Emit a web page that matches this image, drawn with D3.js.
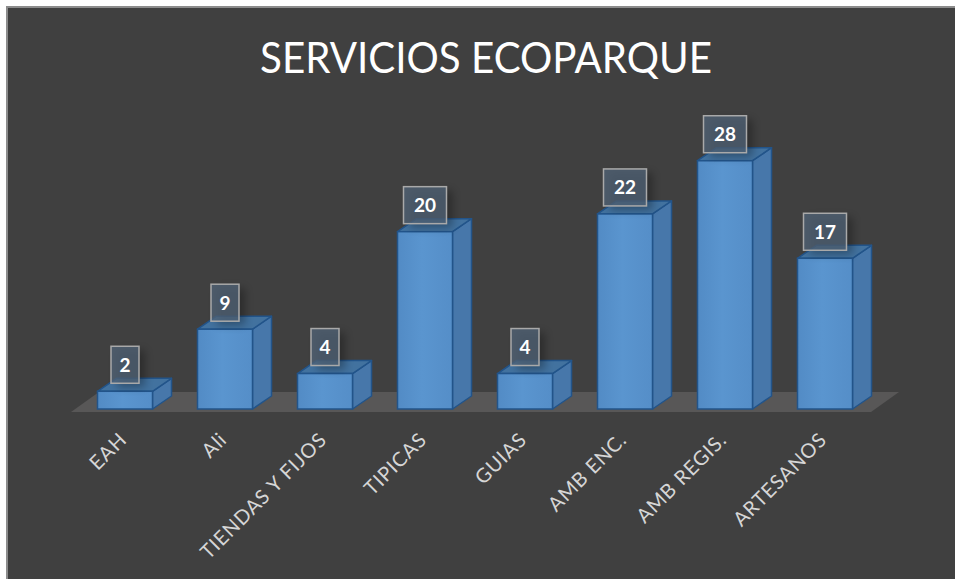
<!DOCTYPE html>
<html>
<head>
<meta charset="utf-8">
<script src="https://cdn.jsdelivr.net/npm/d3@7"></script>
<style>
  html, body { margin: 0; padding: 0; background: #ffffff; }
  svg { display: block; }
</style>
</head>
<body>
<svg id="chart" width="955" height="579"></svg>
<script>
// Services counted at the eco-park
const categories = ["EAH", "Ali", "TIENDAS Y FIJOS", "TIPICAS", "GUIAS", "AMB ENC.", "AMB REGIS.", "ARTESANOS"];
const values = [2, 9, 4, 20, 4, 22, 28, 17];
const title = "SERVICIOS ECOPARQUE";

const svg = d3.select("#chart");

// panel background with its border
svg.append("rect")
  .attr("x", 7).attr("y", 7)
  .attr("width", 960).attr("height", 590)
  .attr("fill", "#404040")
  .attr("stroke", "#8c8c8c")
  .attr("stroke-width", 2);

const defs = svg.append("defs");
const frontGrad = defs.append("linearGradient").attr("id", "front")
  .attr("x1", "0").attr("x2", "1").attr("y1", "0").attr("y2", "0");
frontGrad.append("stop").attr("offset", "0").attr("stop-color", "#528bc5");
frontGrad.append("stop").attr("offset", "0.45").attr("stop-color", "#5a95cf");
frontGrad.append("stop").attr("offset", "1").attr("stop-color", "#558ec8");

const shadow = defs.append("filter").attr("id", "soft")
  .attr("x", "-50%").attr("y", "-50%").attr("width", "200%").attr("height", "200%");
shadow.append("feGaussianBlur").attr("stdDeviation", 4);

// scales
const x = d3.scaleBand()
  .domain(categories)
  .range([75, 875])
  .paddingInner(0.45)
  .paddingOuter(0.225);

const y = d3.scaleLinear()
  .domain([0, 30])
  .range([409, 143]);

// oblique depth offsets
const bdx = 19, bdy = -13;     // bar depth
const fdx = 28, fdy = -20;     // floor depth
const base = y(0);

// floor
const fx0 = x.range()[0] - 4, fx1 = x.range()[1] - 4, fy = base + 3;
svg.append("path")
  .attr("d", `M${fx0},${fy} L${fx1},${fy} L${fx1 + fdx},${fy + fdy} L${fx0 + fdx},${fy + fdy} Z`)
  .attr("fill", "#585757");

const data = categories.map((c, i) => ({ c, v: values[i] }));

const bars = svg.append("g").selectAll("g.bar").data(data).join("g").attr("class", "bar");

// side face
bars.append("path")
  .attr("d", d => {
    const x1 = x(d.c) + x.bandwidth(), yt = y(d.v);
    return `M${x1},${base} L${x1},${yt} L${x1 + bdx},${yt + bdy} L${x1 + bdx},${base + bdy} Z`;
  })
  .attr("fill", "#4777aa")
  .attr("stroke", "#22548a").attr("stroke-width", 1.5).attr("stroke-linejoin", "round");

// top face
bars.append("path")
  .attr("d", d => {
    const x0 = x(d.c), x1 = x0 + x.bandwidth(), yt = y(d.v);
    return `M${x0},${yt} L${x1},${yt} L${x1 + bdx},${yt + bdy} L${x0 + bdx},${yt + bdy} Z`;
  })
  .attr("fill", "#42729f")
  .attr("stroke", "#22548a").attr("stroke-width", 1.5).attr("stroke-linejoin", "round");

// front face
bars.append("rect")
  .attr("x", d => x(d.c))
  .attr("y", d => y(d.v))
  .attr("width", x.bandwidth())
  .attr("height", d => base - y(d.v))
  .attr("fill", "url(#front)")
  .attr("stroke", "#22548a").attr("stroke-width", 1.5);

// value labels in framed boxes
const boxH = 37;
const labels = svg.append("g").selectAll("g.lbl").data(data).join("g").attr("class", "lbl");
const boxW = d => String(d.v).length > 1 ? 43 : 28;

labels.append("rect")
  .attr("x", d => x(d.c) + x.bandwidth() / 2 - boxW(d) / 2 + 6)
  .attr("y", d => y(d.v) - 8 - boxH + 4)
  .attr("width", boxW).attr("height", boxH)
  .attr("fill", "#000").attr("opacity", 0.3)
  .attr("filter", "url(#soft)");

labels.append("rect")
  .attr("x", d => x(d.c) + x.bandwidth() / 2 - boxW(d) / 2)
  .attr("y", d => y(d.v) - 8 - boxH)
  .attr("width", boxW).attr("height", boxH)
  .attr("fill", "rgba(82,100,120,0.75)")
  .attr("stroke", "#a9a9a9").attr("stroke-width", 1.5);

labels.append("text")
  .attr("x", d => x(d.c) + x.bandwidth() / 2)
  .attr("y", d => y(d.v) - 8 - boxH / 2 + 7)
  .attr("text-anchor", "middle")
  .attr("font-family", "Lato, 'Open Sans', sans-serif")
  .attr("font-weight", "bold")
  .attr("font-size", 19)
  .attr("fill", "#ffffff")
  .text(d => d.v);

// category axis labels, slanted
const xAxis = svg.append("g")
  .attr("transform", `translate(0,${base})`)
  .call(d3.axisBottom(x).tickSize(0).tickPadding(0));
xAxis.select(".domain").remove();
xAxis.selectAll("text")
  .attr("font-family", "Lato, 'Open Sans', sans-serif")
  .attr("font-size", 20)
  .attr("letter-spacing", 0.8)
  .attr("fill", "#d6d6d6")
  .attr("text-anchor", "end")
  .attr("dy", null)
  .attr("y", 0)
  .attr("transform", "translate(3,32) rotate(-45)");

// title
svg.append("text")
  .attr("x", 486).attr("y", 73)
  .attr("text-anchor", "middle")
  .attr("font-family", "Lato, 'Open Sans', sans-serif")
  .attr("font-size", 43)
  .attr("fill", "#ffffff")
  .attr("textLength", 452)
  .attr("lengthAdjust", "spacingAndGlyphs")
  .text(title);
</script>
</body>
</html>
